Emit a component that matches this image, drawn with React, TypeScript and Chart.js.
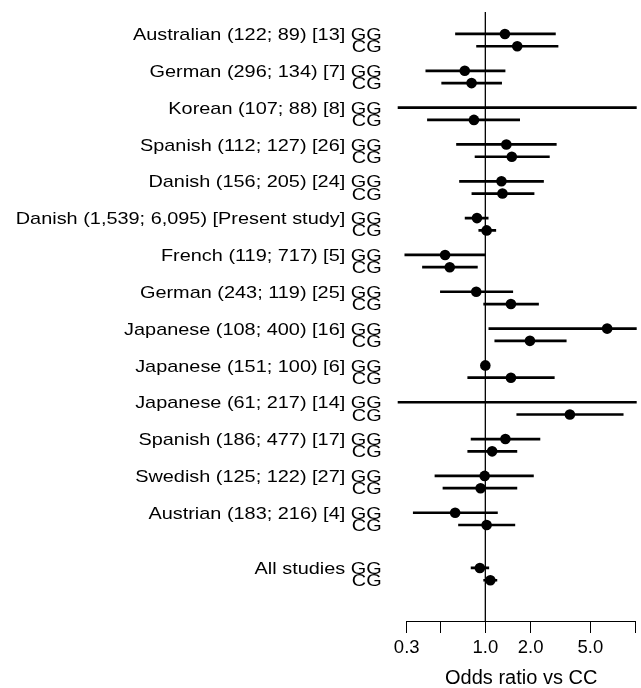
import React, { useEffect, useRef } from 'react';
import { Chart, registerables } from 'chart.js';

Chart.register(...registerables);

const STUDIES = [
  'Australian (122; 89) [13]',
  'German (296; 134) [7]',
  'Korean (107; 88) [8]',
  'Spanish (112; 127) [26]',
  'Danish (156; 205) [24]',
  'Danish (1,539; 6,095) [Present study]',
  'French (119; 717) [5]',
  'German (243; 119) [25]',
  'Japanese (108; 400) [16]',
  'Japanese (151; 100) [6]',
  'Japanese (61; 217) [14]',
  'Spanish (186; 477) [17]',
  'Swedish (125; 122) [27]',
  'Austrian (183; 216) [4]',
  'All studies',
];

// Odds ratios (vs CC) with 95% CI; null = not estimable (no point drawn)
const GG_OR = [1.35, 0.73, null, 1.38, 1.28, 0.88, 0.54, 0.87, 6.46, 1.0, null, 1.36, 0.99, 0.63, 0.92];
const GG_LO = [0.63, 0.40, 0.2, 0.64, 0.67, 0.73, 0.29, 0.50, 1.05, 1.0, 0.2, 0.80, 0.46, 0.33, 0.80];
const GG_HI = [2.94, 1.36, 20, 2.98, 2.45, 1.05, 1.0, 1.53, 20, 1.0, 20, 2.32, 2.10, 1.21, 1.06];

const CG_OR = [1.63, 0.81, 0.84, 1.50, 1.30, 1.02, 0.58, 1.48, 1.98, 1.48, 3.65, 1.11, 0.93, 1.02, 1.08];
const CG_LO = [0.87, 0.51, 0.41, 0.85, 0.81, 0.90, 0.38, 0.97, 1.15, 0.76, 1.61, 0.76, 0.52, 0.66, 0.97];
const CG_HI = [3.06, 1.29, 1.70, 2.68, 2.12, 1.18, 0.89, 2.27, 3.47, 2.89, 8.3, 1.63, 1.63, 1.58, 1.20];

const GENOTYPES = ['GG', 'CG'];
const X_TICKS = [0.3, 0.5, 1, 2, 5, 10];
const X_TICK_LABELS = ['0.3', '', '1.0', '2.0', '5.0', ''];
const X_TITLE = 'Odds ratio vs CC';
const REF_OR = 1;

function rowOf(i: number): number {
  return i < STUDIES.length - 1 ? 3 * i : 3 * (STUDIES.length - 1) + 1.5;
}

export default function App() {
  const ref = useRef<HTMLCanvasElement>(null);

  useEffect(() => {
    const rows: { label: string; y: number; or: number | null; lo: number; hi: number }[] = [];
    STUDIES.forEach((s, i) => {
      rows.push({ label: s + ' ' + GENOTYPES[0], y: rowOf(i), or: GG_OR[i], lo: GG_LO[i], hi: GG_HI[i] });
      rows.push({ label: GENOTYPES[1], y: rowOf(i) + 1, or: CG_OR[i], lo: CG_LO[i], hi: CG_HI[i] });
    });

    const ciData: any[] = [];
    rows.forEach((r) => {
      ciData.push({ x: r.lo, y: r.y }, { x: r.hi, y: r.y }, { x: r.lo, y: null });
    });
    const ptData = rows.filter((r) => r.or != null).map((r) => ({ x: r.or, y: r.y }));

    const refLine = {
      id: 'refLine',
      beforeDatasetsDraw(chart: any) {
        const { ctx, chartArea, scales } = chart;
        const x = scales.x.getPixelForValue(REF_OR);
        ctx.save();
        ctx.strokeStyle = '#000';
        ctx.lineWidth = 1.3;
        ctx.beginPath();
        ctx.moveTo(x, chartArea.top);
        ctx.lineTo(x, chartArea.bottom);
        ctx.stroke();
        ctx.restore();
      },
    };

    const rowLabels = {
      id: 'rowLabels',
      afterDraw(chart: any) {
        const { ctx, scales } = chart;
        ctx.save();
        ctx.fillStyle = '#000';
        ctx.font = '17px "Liberation Sans", Arial, sans-serif';
        ctx.textAlign = 'right';
        ctx.textBaseline = 'alphabetic';
        rows.forEach((r) => {
          const y = scales.y.getPixelForValue(r.y);
          ctx.save();
          ctx.translate(381.7, y);
          ctx.scale(1.17, 1);
          ctx.fillText(r.label, 0, 6.1);
          ctx.restore();
        });
        ctx.restore();
      },
    };

    const chart = new Chart(ref.current as HTMLCanvasElement, {
      type: 'scatter',
      data: {
        datasets: [
          {
            data: ciData,
            showLine: true,
            spanGaps: false,
            borderColor: '#000',
            borderWidth: 2.7,
            pointRadius: 0,
            pointHoverRadius: 0,
            clip: { left: 9, right: 1, top: 5, bottom: 0 } as any,
          },
          {
            data: ptData,
            showLine: false,
            pointRadius: 5.3,
            pointHoverRadius: 5.3,
            backgroundColor: '#000',
            borderColor: '#000',
            borderWidth: 0,
          },
        ],
      },
      options: {
        responsive: false,
        animation: false,
        events: [],
        layout: { padding: { left: 406.7, right: 1, top: 12, bottom: 0 } },
        plugins: { legend: { display: false }, tooltip: { enabled: false } },
        scales: {
          x: {
            type: 'logarithmic',
            min: 0.3,
            max: 10,
            afterBuildTicks: (s: any) => {
              s.ticks = X_TICKS.map((v) => ({ value: v }));
            },
            afterFit: (s: any) => {
              s.height = 67;
            },
            grid: {
              display: true,
              drawOnChartArea: false,
              drawTicks: true,
              tickLength: 12,
              color: '#000',
              lineWidth: 1,
            },
            border: { display: true, color: '#000', width: 1 },
            ticks: {
              autoSkip: false,
              maxRotation: 0,
              minRotation: 0,
              padding: 4,
              color: '#000',
              font: { family: '"Liberation Sans", Arial, sans-serif', size: 18.5 },
              callback: (v: any) => {
                const i = X_TICKS.indexOf(Number(v));
                return i >= 0 ? X_TICK_LABELS[i] : '';
              },
            },
            title: {
              display: true,
              text: X_TITLE,
              color: '#000',
              padding: { top: 0, bottom: 0 },
              font: { family: '"Liberation Sans", Arial, sans-serif', size: 20, lineHeight: 1 },
            },
          },
          y: {
            type: 'linear',
            display: false,
            reverse: true,
            min: -1.79,
            max: 47.82,
          },
        },
      },
      plugins: [refLine, rowLabels],
    });
    return () => chart.destroy();
  }, []);

  return (
    <div style={{ position: 'absolute', left: 0, top: 0, width: 641, height: 688, background: '#fff' }}>
      <canvas ref={ref} width={641} height={688} style={{ display: 'block' }} />
    </div>
  );
}
